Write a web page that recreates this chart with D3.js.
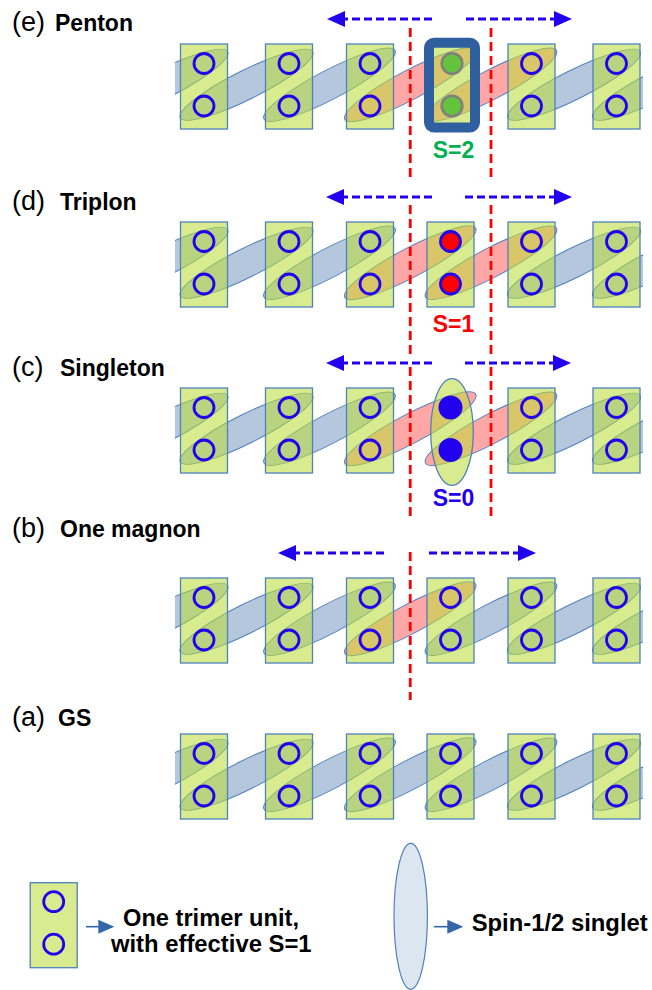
<!DOCTYPE html>
<html><head><meta charset="utf-8">
<script src="https://cdn.jsdelivr.net/npm/d3@7"></script>
<style>body{margin:0;background:#fff}svg{display:block}</style>
</head><body>
<script>
// ---- content of each chain row (bottom row first) ----
const rowKeys    = ["a", "b", "c", "d", "e"];
const rowTags    = ["(a)", "(b)", "(c)", "(d)", "(e)"];
const rowNames   = ["GS", "One magnon", "Singleton", "Triplon", "Penton"];
// state carried by the central unit (index 3) of each row
const centerKind = ["plain", "plain", "singlet", "triplet", "quintet"];
const spinLabels = ["", "", "S=0", "S=1", "S=2"];
// bond k links the lower site of unit k-1 to the upper site of unit k
const bondIndex  = [0, 1, 2, 3, 4, 5, 6];
const unitIndex  = [0, 1, 2, 3, 4, 5];
const redBonds   = [[], [3], [3, 4], [3, 4], [3, 4]];
// domain walls (red dashed lines), in unit-index units
const wallPos    = [[], [2.5], [2.5, 3.5], [2.5, 3.5], [2.5, 3.5]];
const legendUnitText    = ["One trimer unit,", "with effective S=1"];
const legendSingletText = ["Spin-1/2 singlet"];

// ---- layout ----
const W = 652, H = 990;
const FONT = "'Liberation Sans', Arial, Helvetica, sans-serif";
const x = d3.scaleLinear()
  .domain([-1, 0, 1, 2, 3, 4, 5, 6])
  .range([119, 204, 289, 370, 450.5, 531.5, 616.5, 701.5]);
const rowTop      = {a: 734, b: 578, c: 388, d: 222, e: 44};
const tagBaseline = {a: 726, b: 537, c: 376, d: 210, e: 31};
const nameX       = {a: 58, b: 60, c: 60, d: 60, e: 55};
const arrowY      = {b: 553, c: 363, d: 197, e: 19};
const arrowSpan   = {b: [278, 384, 429, 536], c: [326, 432, 465, 571], d: [326, 432, 465, 572], e: [327, 432, 466, 572]};
const wallY       = {b: [552, 700], c: [367, 518], d: [205, 355], e: [28, 177]};
const spinBase    = {c: 506, d: 332, e: 158};
const spinColor   = {c: "#2200ee", d: "#ff0000", e: "#00b050"};

const UW = 47, UH = 85, SITE1 = 19.5, SITE2 = 62, RING = 10;
const BOND_RX = 74, BOND_RY = 14.5;
const RING_COL = "#2200ee";
const EDGE_COL = "#4f81bd";
const UNIT_FILL = "rgb(187,222,60)", UNIT_OP = 0.573;
const BLUE_BOND = "#b4c7dc", RED_BOND = "#ffa6a6";

const svg = d3.select("body").append("svg").attr("width", W).attr("height", H);
const defs = svg.append("defs");
defs.append("clipPath").attr("id", "chainClip")
  .append("rect").attr("x", 175).attr("y", 0).attr("width", 468).attr("height", H);

function arrowHead(g, tipX, y, dir, len, half, col) {
  g.append("path")
    .attr("d", `M${tipX},${y} L${tipX - dir * len},${y - half} L${tipX - dir * len},${y + half} Z`)
    .attr("fill", col);
}

function drawUnit(g, cx, top, opts = {}) {
  g.append("rect")
    .attr("x", cx - UW / 2).attr("y", top).attr("width", UW).attr("height", UH)
    .attr("fill", UNIT_FILL).attr("fill-opacity", UNIT_OP)
    .attr("stroke", EDGE_COL).attr("stroke-width", 1.3);
}

rowKeys.forEach((key, ri) => {
  const g = svg.append("g").attr("class", "row-" + key);
  const top = rowTop[key];
  const kind = centerKind[ri];

  // bonds: singlet ellipses between neighbouring units
  const bonds = g.append("g").attr("clip-path", "url(#chainClip)");
  bondIndex.forEach(k => {
    const x1 = x(k - 1), y1 = top + SITE2, x2 = x(k), y2 = top + SITE1;
    const ang = Math.atan2(y2 - y1, x2 - x1) * 180 / Math.PI;
    bonds.append("ellipse")
      .attr("cx", 0).attr("cy", 0).attr("rx", BOND_RX).attr("ry", BOND_RY)
      .attr("transform", `translate(${(x1 + x2) / 2},${(y1 + y2) / 2}) rotate(${ang})`)
      .attr("fill", redBonds[ri].includes(k) ? RED_BOND : BLUE_BOND)
      .attr("stroke", EDGE_COL).attr("stroke-width", 1);
  });

  // domain walls
  wallPos[ri].forEach(p => {
    g.append("line")
      .attr("x1", x(p)).attr("x2", x(p))
      .attr("y1", wallY[key][0]).attr("y2", wallY[key][1])
      .attr("stroke", "#ff0000").attr("stroke-width", 2.8)
      .attr("stroke-dasharray", "9,5");
  });

  // trimer units
  unitIndex.forEach(i => {
    if (i === 3 && kind === "singlet") return;
    drawUnit(g, x(i), top);
  });

  if (kind === "singlet") {
    g.append("ellipse")
      .attr("cx", x(3) + 1.5).attr("cy", top + 44).attr("rx", 21.3).attr("ry", 53.3)
      .attr("fill", UNIT_FILL).attr("fill-opacity", UNIT_OP)
      .attr("stroke", EDGE_COL).attr("stroke-width", 1.3);
  }

  // sites
  unitIndex.forEach(i => {
    [SITE1, SITE2].forEach(dy => {
      const c = g.append("circle").attr("cx", x(i)).attr("cy", top + dy);
      if (i === 3 && kind === "singlet") {
        c.attr("r", 12).attr("fill", RING_COL).attr("stroke", "none");
      } else if (i === 3 && kind === "triplet") {
        c.attr("r", 10).attr("fill", "#ff0000").attr("stroke", RING_COL).attr("stroke-width", 2.8);
      } else if (i === 3 && kind === "quintet") {
        c.attr("cx", x(3) + 1.5).attr("r", 10.3).attr("fill", "#63c33a").attr("stroke", "#808080").attr("stroke-width", 2.6);
      } else {
        c.attr("r", RING).attr("fill", "none").attr("stroke", RING_COL).attr("stroke-width", 2.8);
      }
    });
  });

  if (kind === "quintet") {
    g.append("rect")
      .attr("x", x(3) + 1.5 - UW / 2 + 0.5).attr("y", top - 1.3)
      .attr("width", UW - 1).attr("height", UH - 0.2).attr("rx", 5)
      .attr("fill", "none").attr("stroke", "#2f5f9e").attr("stroke-width", 10);
  }

  // propagation arrows
  if (arrowY[key] !== undefined) {
    const [lt, le, rs, rt] = arrowSpan[key], y = arrowY[key];
    const HL = 18, HH = 8;
    g.append("line").attr("x1", le).attr("x2", lt + HL - 1).attr("y1", y).attr("y2", y)
      .attr("stroke", RING_COL).attr("stroke-width", 2.8).attr("stroke-dasharray", "8,4");
    arrowHead(g, lt, y, -1, HL, HH, RING_COL);
    g.append("line").attr("x1", rs).attr("x2", rt - HL + 1).attr("y1", y).attr("y2", y)
      .attr("stroke", RING_COL).attr("stroke-width", 2.8).attr("stroke-dasharray", "8,4");
    arrowHead(g, rt, y, 1, HL, HH, RING_COL);
  }

  // spin label of the central excitation
  if (spinLabels[ri]) {
    g.append("text").attr("x", x(3) + 3).attr("y", spinBase[key])
      .attr("text-anchor", "middle").attr("font-family", FONT).attr("font-weight", "bold")
      .attr("font-size", 23).attr("fill", spinColor[key]).text(spinLabels[ri]);
  }

  // row title
  g.append("text").attr("x", 12).attr("y", tagBaseline[key])
    .attr("font-family", FONT).attr("font-size", 27).attr("fill", "#000").text(rowTags[ri]);
  g.append("text").attr("x", nameX[key]).attr("y", tagBaseline[key])
    .attr("font-family", FONT).attr("font-weight", "bold").attr("font-size", 23)
    .attr("fill", "#000").text(rowNames[ri]);
});

// ---- legend ----
const lg = svg.append("g").attr("class", "legend");
const LCX = 53.7, LTOP = 882.7;
drawUnit(lg, LCX, LTOP);
[SITE1, SITE2].forEach(dy => {
  lg.append("circle").attr("cx", LCX).attr("cy", LTOP + dy - 0.5).attr("r", RING)
    .attr("fill", "none").attr("stroke", RING_COL).attr("stroke-width", 2.8);
});
const LEG_ARROW = "#3466a8";
lg.append("line").attr("x1", 86).attr("x2", 100).attr("y1", 926.7).attr("y2", 926.7)
  .attr("stroke", LEG_ARROW).attr("stroke-width", 1.6);
arrowHead(lg, 114.3, 926.7, 1, 16, 7, LEG_ARROW);
lg.append("text").attr("x", 211).attr("y", 925.7).attr("text-anchor", "middle")
  .attr("font-family", FONT).attr("font-weight", "bold").attr("font-size", 23)
  .attr("textLength", 176).attr("lengthAdjust", "spacingAndGlyphs").text(legendUnitText[0]);
lg.append("text").attr("x", 211.3).attr("y", 951.7).attr("text-anchor", "middle")
  .attr("font-family", FONT).attr("font-weight", "bold").attr("font-size", 23)
  .attr("textLength", 200.7).attr("lengthAdjust", "spacingAndGlyphs").text(legendUnitText[1]);

lg.append("ellipse").attr("cx", 410.7).attr("cy", 916.3).attr("rx", 16.7).attr("ry", 73)
  .attr("fill", "#dce6f1").attr("stroke", EDGE_COL).attr("stroke-width", 1.2);
lg.append("line").attr("x1", 434).attr("x2", 449).attr("y1", 926.7).attr("y2", 926.7)
  .attr("stroke", LEG_ARROW).attr("stroke-width", 1.6);
arrowHead(lg, 463.3, 926.7, 1, 16, 7, LEG_ARROW);
lg.append("text").attr("x", 471.7).attr("y", 930.5)
  .attr("font-family", FONT).attr("font-weight", "bold").attr("font-size", 23)
  .attr("textLength", 176).attr("lengthAdjust", "spacingAndGlyphs").text(legendSingletText[0]);
</script>
</body></html>
